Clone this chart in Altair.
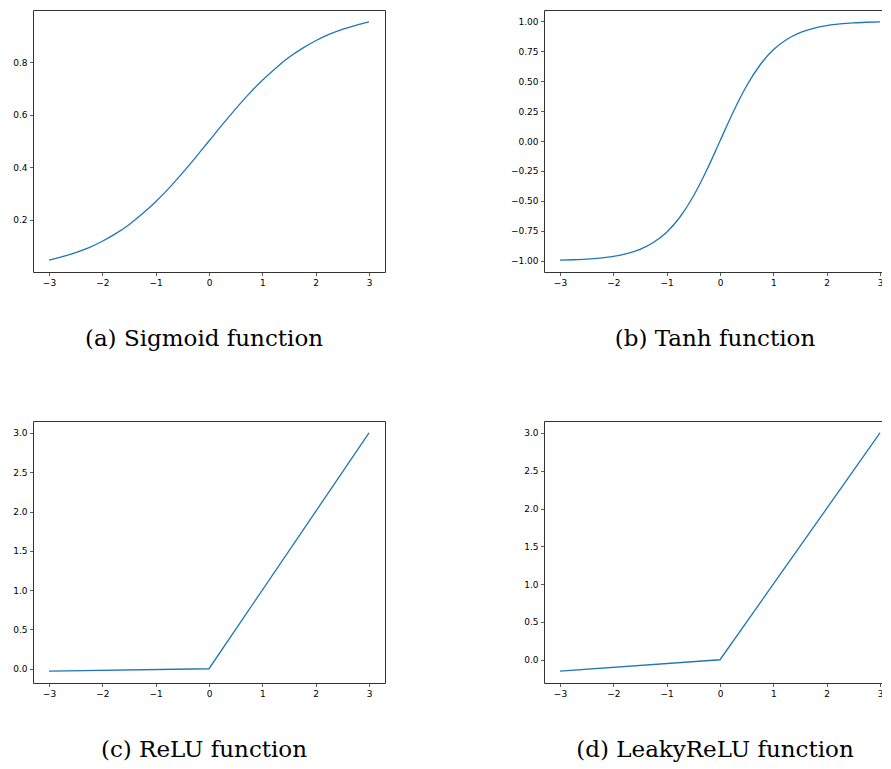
import altair as alt
import pandas as pd

# ---- data ----
x_curve = [-3.0, -2.75, -2.5, -2.25, -2.0, -1.75, -1.5, -1.25, -1.0, -0.75, -0.5, -0.25,
           0.0, 0.25, 0.5, 0.75, 1.0, 1.25, 1.5, 1.75, 2.0, 2.25, 2.5, 2.75, 3.0]
sigmoid_y = [0.047, 0.060, 0.076, 0.095, 0.119, 0.148, 0.182, 0.223, 0.269, 0.321, 0.378, 0.438,
             0.500, 0.562, 0.622, 0.679, 0.731, 0.777, 0.818, 0.852, 0.881, 0.905, 0.924, 0.940, 0.953]
tanh_y = [-0.995, -0.992, -0.987, -0.978, -0.964, -0.941, -0.905, -0.848, -0.762, -0.635, -0.462, -0.245,
          0.000, 0.245, 0.462, 0.635, 0.762, 0.848, 0.905, 0.941, 0.964, 0.978, 0.987, 0.992, 0.995]
x_piece = [-3.0, 0.0, 3.0]
relu_y = [-0.03, 0.0, 3.0]
leaky_y = [-0.15, 0.0, 3.0]

x_ticks = [-3, -2, -1, 0, 1, 2, 3]
sigmoid_ticks = [0.2, 0.4, 0.6, 0.8]
tanh_ticks = [-1.0, -0.75, -0.5, -0.25, 0.0, 0.25, 0.5, 0.75, 1.0]
relu_ticks = [0.0, 0.5, 1.0, 1.5, 2.0, 2.5, 3.0]

captions = ["(a) Sigmoid function", "(b) Tanh function", "(c) ReLU function", "(d) LeakyReLU function"]

W, H = 352, 262
LINE = "#1f77b4"


def panel(xs, ys, ydom, yticks, yfmt, caption, interp):
    df = pd.DataFrame({"x": xs, "y": ys})
    return alt.Chart(df).mark_line(
        color=LINE, strokeWidth=1.3, interpolate=interp
    ).encode(
        x=alt.X("x:Q",
                scale=alt.Scale(domain=[-3.3, 3.3], nice=False, zero=False),
                axis=alt.Axis(values=x_ticks, format="d", title=None)),
        y=alt.Y("y:Q",
                scale=alt.Scale(domain=ydom, nice=False, zero=False),
                axis=alt.Axis(values=yticks, format=yfmt, title=None)),
    ).properties(
        width=W, height=H,
        title=alt.TitleParams(caption, orient="bottom", anchor="middle", baseline="alphabetic",
                              offset=59, dx=-5, font="DejaVu Serif", fontSize=23,
                              fontWeight="normal", color="black"),
    )


pa = panel(x_curve, sigmoid_y, [0.002, 0.998], sigmoid_ticks, ".1f", captions[0], "monotone")
pb = panel(x_curve, tanh_y, [-1.0945, 1.0945], tanh_ticks, ".2f", captions[1], "monotone")
pc = panel(x_piece, relu_y, [-0.1815, 3.1515], relu_ticks, ".1f", captions[2], "linear")
pd_ = panel(x_piece, leaky_y, [-0.3075, 3.1575], relu_ticks, ".1f", captions[3], "linear")

chart = alt.concat(
    pa, pb, pc, pd_, columns=2,
    spacing={"row": 149, "column": 159}, bounds="flush",
).properties(
    padding={"left": 4, "top": 1, "right": -15, "bottom": 0},
    background="white",
).configure_view(
    stroke="#333333", strokeWidth=1,
).configure_axis(
    grid=False, domain=False,
    tickColor="#333333", tickSize=3.5, tickWidth=0.8,
    labelFont="DejaVu Sans", labelFontSize=9, labelColor="black", labelPadding=2.5,
    labelFlush=False, labelOverlap=False,
)

chart.save("out.html", embed_options={"renderer": "svg", "actions": False})
